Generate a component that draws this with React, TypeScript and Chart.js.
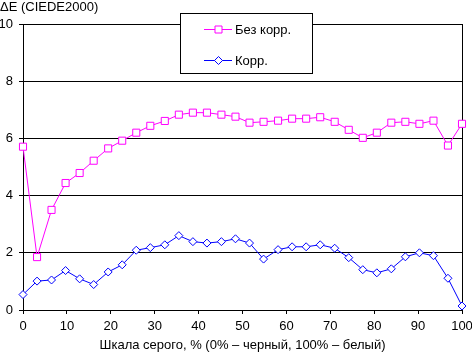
import React, { useEffect, useRef } from "react";
import { Chart, registerables } from "chart.js";

Chart.register(...registerables);

// ---- Data ----
const xPercent = [
  0, 3.2, 6.5, 9.7, 12.9, 16.1, 19.4, 22.6, 25.8, 29.0, 32.3, 35.5, 38.7, 41.9, 45.2, 48.4,
  51.6, 54.8, 58.1, 61.3, 64.5, 67.7, 71.0, 74.2, 77.4, 80.6, 83.9, 87.1, 90.3, 93.5, 96.8, 100,
];
const seriesNames = ["Без корр.", "Корр."];
const uncorrected = [
  5.71, 1.85, 3.5, 4.44, 4.79, 5.22, 5.65, 5.92, 6.2, 6.44, 6.61, 6.83, 6.9, 6.9, 6.83, 6.76,
  6.55, 6.58, 6.62, 6.69, 6.69, 6.74, 6.58, 6.3, 6.02, 6.2, 6.55, 6.58, 6.51, 6.62, 5.75, 6.51,
];
const corrected = [
  0.54, 1.01, 1.05, 1.38, 1.09, 0.89, 1.33, 1.58, 2.09, 2.18, 2.28, 2.6, 2.39, 2.34, 2.39, 2.49,
  2.34, 1.78, 2.11, 2.21, 2.21, 2.28, 2.16, 1.83, 1.41, 1.3, 1.44, 1.86, 2.0, 1.9, 1.11, 0.14,
];
const xTicks = [0, 10, 20, 30, 40, 50, 60, 70, 80, 90, 100];
const yTicks = [0, 2, 4, 6, 8, 10];
const yAxisTitle = "ΔE (CIEDE2000)";
const xAxisTitle = "Шкала серого, % (0% – черный, 100% – белый)";

const FONT = "'Liberation Sans', Arial, sans-serif";
const MAGENTA = "#FF00FF";
const BLUE = "#0000FF";

const decorPlugin = {
  id: "decor",
  beforeDatasetsDraw(chart: any) {
    const { ctx, chartArea } = chart;
    ctx.save();
    ctx.strokeStyle = "#000";
    ctx.lineWidth = 1;
    const x = Math.round(chartArea.right) + 0.5;
    ctx.beginPath();
    ctx.moveTo(x, Math.round(chartArea.top));
    ctx.lineTo(x, Math.round(chartArea.bottom) + 1);
    ctx.stroke();
    ctx.restore();
  },
  afterDraw(chart: any) {
    const { ctx } = chart;
    ctx.save();
    // y-axis title
    ctx.fillStyle = "#000";
    ctx.font = `13px ${FONT}`;
    ctx.textBaseline = "middle";
    ctx.textAlign = "left";
    ctx.fillText(yAxisTitle, 0, 7);

    // legend box
    ctx.fillStyle = "#fff";
    ctx.fillRect(181, 14, 131, 59);
    ctx.strokeStyle = "#000";
    ctx.lineWidth = 1;
    ctx.strokeRect(180.5, 13.5, 132, 60);

    chart.data.datasets.forEach((ds: any, i: number) => {
      const y = 29.5 + i * 31;
      ctx.strokeStyle = ds.borderColor;
      ctx.lineWidth = 1;
      ctx.beginPath();
      ctx.moveTo(204, y);
      ctx.lineTo(232, y);
      ctx.stroke();
      const cx = 218.5;
      ctx.fillStyle = "#fff";
      ctx.beginPath();
      if (ds.pointStyle === "rect") {
        ctx.rect(cx - 3.5, y - 3.5, 7, 7);
      } else {
        const r = 4;
        ctx.moveTo(cx, y - r);
        ctx.lineTo(cx + r, y);
        ctx.lineTo(cx, y + r);
        ctx.lineTo(cx - r, y);
        ctx.closePath();
      }
      ctx.fill();
      ctx.stroke();
      ctx.fillStyle = "#000";
      ctx.font = `13px ${FONT}`;
      ctx.textBaseline = "middle";
      ctx.fillText(ds.label, 235, y + 0.5);
    });
    ctx.restore();
  },
};

export default function App() {
  const ref = useRef<HTMLCanvasElement | null>(null);

  useEffect(() => {
    if (!ref.current) return;
    const chart = new Chart(ref.current, {
      type: "line",
      data: {
        datasets: [
          {
            label: seriesNames[0],
            data: xPercent.map((x, i) => ({ x, y: uncorrected[i] })),
            borderColor: MAGENTA,
            backgroundColor: "#FFFFFF",
            borderWidth: 1,
            pointStyle: "rect",
            pointRadius: 5,
            pointBorderWidth: 1,
            pointBackgroundColor: "#FFFFFF",
            pointBorderColor: MAGENTA,
            tension: 0,
            clip: false as any,
          },
          {
            label: seriesNames[1],
            data: xPercent.map((x, i) => ({ x, y: corrected[i] })),
            borderColor: BLUE,
            backgroundColor: "#FFFFFF",
            borderWidth: 1,
            pointStyle: "rectRot",
            pointRadius: 4,
            pointBorderWidth: 1,
            pointBackgroundColor: "#FFFFFF",
            pointBorderColor: BLUE,
            tension: 0,
            clip: false as any,
          },
        ],
      },
      options: {
        animation: false,
        responsive: false,
        devicePixelRatio: 1,
        layout: { padding: { left: 0, right: 10, top: 24, bottom: 0 } },
        plugins: { legend: { display: false }, tooltip: { enabled: false } },
        scales: {
          x: {
            type: "linear",
            min: 0,
            max: 100,
            afterBuildTicks: (s: any) => {
              s.ticks = xTicks.map((v) => ({ value: v }));
            },
            ticks: {
              color: "#000",
              font: { family: FONT, size: 13 },
              padding: 5,
              maxRotation: 0,
              autoSkip: false,
            },
            grid: {
              display: true,
              drawOnChartArea: false,
              drawTicks: true,
              tickLength: 4,
              color: "#000",
              lineWidth: 1,
            },
            border: { display: true, color: "#000", width: 1 },
            title: {
              display: true,
              text: xAxisTitle,
              color: "#000",
              font: { family: FONT, size: 13 },
              padding: { top: 0, bottom: 0 },
            },
            afterFit: (s: any) => {
              s.height = 43;
              s.paddingLeft = 0;
              s.paddingRight = 0;
            },
          },
          y: {
            type: "linear",
            min: 0,
            max: 10,
            afterBuildTicks: (s: any) => {
              s.ticks = yTicks.map((v) => ({ value: v }));
            },
            ticks: {
              color: "#000",
              font: { family: FONT, size: 13 },
              padding: 6,
            },
            grid: {
              display: true,
              drawTicks: true,
              tickLength: 4,
              color: "#000",
              lineWidth: 1,
            },
            border: { display: true, color: "#000", width: 1 },
            afterFit: (s: any) => {
              s.width = 23;
              s.paddingTop = 0;
              s.paddingBottom = 0;
            },
          },
        },
      },
      plugins: [decorPlugin],
    });
    return () => chart.destroy();
  }, []);

  return (
    <div style={{ position: "fixed", left: 0, top: 0, width: 472, height: 353, background: "#fff" }}>
      <canvas ref={ref} width={472} height={353} style={{ width: 472, height: 353, display: "block" }} />
    </div>
  );
}
